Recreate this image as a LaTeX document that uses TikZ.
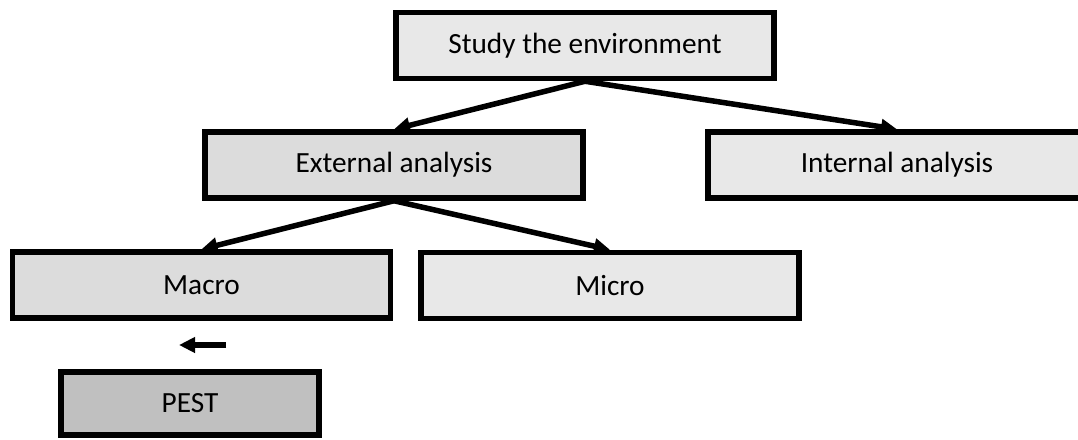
\documentclass[tikz,border=0pt]{standalone}
\usepackage{fontspec}
\setmainfont{Carlito}
\usetikzlibrary{arrows.meta}
\definecolor{boxlight}{HTML}{E8E8E8}
\definecolor{boxmid}{HTML}{DCDCDC}
\definecolor{boxdark}{HTML}{C0C0C0}
\tikzset{
  box/.style={draw=black, line width=5.5pt, rectangle, inner sep=0pt,
    minimum width=378pt, minimum height=66pt,
    font=\fontsize{29.3}{34}\selectfont, text=black},
  link/.style={line width=5.5pt, -{Triangle[length=16pt,width=15pt]}},
}
\begin{document}
\begin{tikzpicture}[x=1pt,y=-1pt]
  \useasboundingbox (0,0) rectangle (1078,439);
  \clip (0,0) rectangle (1078,439);
  \fill[white] (0,0) rectangle (1078,439);

  % boxes
  \node[box, fill=boxlight] (study) at (585,45.5) {Study the environment};
  \node[box, fill=boxmid] (external) at (394,165) {External analysis};
  \node[box, fill=boxlight] (internal) at (897,165) {Internal analysis};
  \node[box, fill=boxmid] (macro) at (201.5,285) {Macro};
  \node[box, fill=boxlight] (micro) at (610,285.5) {Micro};
  \node[box, fill=boxdark, minimum width=258pt, minimum height=63pt] (pest) at (190,403.5) {PEST};

  % hierarchy links
  \draw[link] (study.south) -- (external.north);
  \draw[link] (study.south) -- (internal.north);
  \draw[link] (external.south) -- (macro.north);
  \draw[link] (external.south) -- (micro.north);

  % short arrow between Macro and PEST
  \coordinate (sa) at (226,345);
  \coordinate (sb) at (179,345);
  \draw[link] (sa) -- (sb);
\end{tikzpicture}
\end{document}
